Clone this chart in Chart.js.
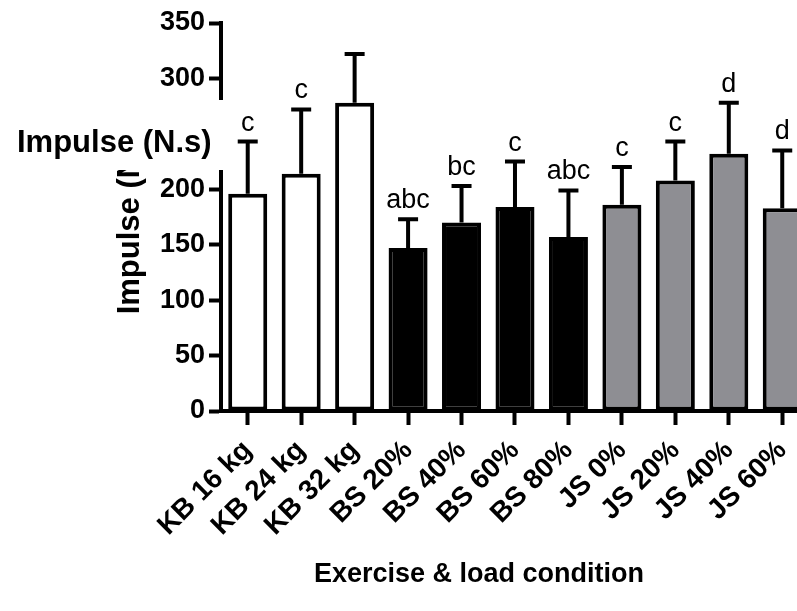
<!DOCTYPE html>
<html>
<head>
<meta charset="utf-8">
<script src="https://cdn.jsdelivr.net/npm/chart.js@4"></script>
<style>
  html, body { margin: 0; padding: 0; background: #fff; overflow: hidden; }
  #wrap { width: 797px; height: 611px; overflow: hidden; }
</style>
</head>
<body>
<div id="wrap"><canvas id="chart" width="815" height="611"></canvas></div>
<script>
const FONT = "Arial, 'Liberation Sans', sans-serif";

// data
const labels = ['KB 16 kg', 'KB 24 kg', 'KB 32 kg', 'BS 20%', 'BS 40%', 'BS 60%', 'BS 80%', 'JS 0%', 'JS 20%', 'JS 40%', 'JS 60%'];
const means = [196, 214, 278, 147, 170, 184, 157, 186, 208, 232, 183];
const sds = [47, 58, 44, 26, 33, 41, 42, 34, 35, 46, 52];
const letters = ['c', 'c', '', 'abc', 'bc', 'c', 'abc', 'c', 'c', 'd', 'd'];
const groups = ['KB', 'KB', 'KB', 'BS', 'BS', 'BS', 'BS', 'JS', 'JS', 'JS', 'JS'];

const fillFor = { KB: '#ffffff', BS: '#000000', JS: '#8e8e93' };

const errorBars = {
    id: 'errorBars',
    afterDatasetsDraw(chart) {
        const ctx = chart.ctx;
        const y = chart.scales.y;
        const meta = chart.getDatasetMeta(0);
        ctx.save();
        ctx.strokeStyle = '#000';
        ctx.fillStyle = '#000';
        ctx.lineWidth = 4;
        meta.data.forEach((bar, i) => {
            const top = y.getPixelForValue(means[i] + sds[i]);
            ctx.beginPath();
            ctx.moveTo(bar.x, bar.y);
            ctx.lineTo(bar.x, top);
            ctx.moveTo(bar.x - 10, top);
            ctx.lineTo(bar.x + 10, top);
            ctx.stroke();
            if (letters[i]) {
                ctx.font = '27px ' + FONT;
                ctx.textAlign = 'center';
                ctx.textBaseline = 'alphabetic';
                ctx.fillText(letters[i], bar.x, top - 11);
            }
        });
        ctx.restore();
    },
    afterDraw(chart) {
        const ctx = chart.ctx;
        ctx.save();
        // the stray horizontal label box sitting over the axis
        ctx.fillStyle = '#fff';
        ctx.fillRect(0, 100, 226, 70);
        ctx.fillStyle = '#000';
        ctx.font = 'bold 31px ' + FONT;
        ctx.textAlign = 'left';
        ctx.textBaseline = 'alphabetic';
        ctx.fillText('Impulse (N.s)', 17, 152);
        // x axis title
        ctx.font = 'bold 27px ' + FONT;
        ctx.textAlign = 'center';
        ctx.fillText('Exercise & load condition', 479, 582);
        ctx.restore();
    }
};

new Chart(document.getElementById('chart').getContext('2d'), {
    type: 'bar',
    data: {
        labels: labels,
        datasets: [{
            data: means,
            backgroundColor: groups.map(g => fillFor[g]),
            borderColor: '#000',
            borderWidth: 4,
            borderSkipped: false,
            categoryPercentage: 1,
            barPercentage: 0.73
        }]
    },
    options: {
        responsive: false,
        animation: false,
        devicePixelRatio: 1,
        layout: { padding: { top: 23, right: 0, left: 0, bottom: 0 } },
        plugins: {
            legend: { display: false },
            tooltip: { enabled: false }
        },
        scales: {
            x: {
                ticks: {
                    color: '#000',
                    font: { family: FONT, size: 28, weight: 'bold' },
                    minRotation: 45,
                    maxRotation: 45,
                    autoSkip: false,
                    padding: 9
                },
                grid: {
                    offset: false,
                    drawOnChartArea: false,
                    tickLength: 14,
                    tickWidth: 4,
                    tickColor: '#000'
                },
                border: { display: true, width: 4, color: '#000' },
                afterFit(scale) { scale.height = 200; }
            },
            y: {
                min: 0,
                max: 350,
                ticks: {
                    stepSize: 50,
                    color: '#000',
                    font: { family: FONT, size: 27, weight: 'bold' },
                    padding: 4
                },
                grid: {
                    drawOnChartArea: false,
                    tickLength: 12,
                    tickWidth: 4,
                    tickColor: '#000'
                },
                border: { display: true, width: 4, color: '#000' },
                title: {
                    display: true,
                    text: 'Impulse (N.s)',
                    color: '#000',
                    font: { family: FONT, size: 31, weight: 'bold' },
                    padding: { top: 112, bottom: 0 }
                },
                afterFit(scale) { scale.width = 221; }
            }
        }
    },
    plugins: [errorBars]
});
</script>
</body>
</html>
